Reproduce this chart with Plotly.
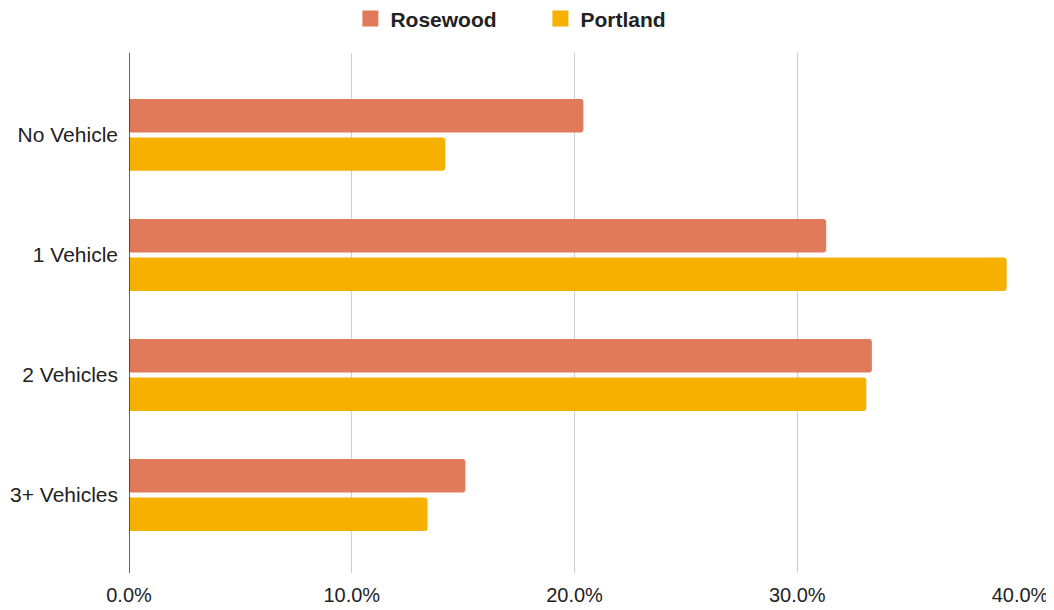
import plotly.graph_objects as go

categories = ["No Vehicle", "1 Vehicle", "2 Vehicles", "3+ Vehicles"]
rosewood = [20.4, 31.3, 33.35, 15.1]
portland = [14.2, 39.4, 33.1, 13.4]
tick_vals = [0, 10, 20, 30, 40]
tick_text = ["0.0%", "10.0%", "20.0%", "30.0%", "40.0%"]
series_names = ["Rosewood", "Portland"]
series_colors = ["#E07A5A", "#F6B000"]

fig = go.Figure()
for name, vals, col in zip(series_names, [rosewood, portland], series_colors):
    fig.add_trace(go.Bar(y=categories, x=vals, name=name, orientation="h",
                         marker=dict(color=col, line=dict(width=0)),
                         showlegend=False))
for name, col in zip(series_names, series_colors):
    fig.add_trace(go.Scatter(x=[None], y=[None], mode="markers", name=name,
                             marker=dict(symbol="square", size=22, color=col)))

fig.update_layout(
    width=1046, height=602,
    margin=dict(l=121, r=34, t=45, b=37, autoexpand=False),
    paper_bgcolor="white", plot_bgcolor="white",
    barmode="group", bargap=0.36, bargroupgap=0.13,
    barcornerradius=3,
    font=dict(family="Liberation Sans, Arial, sans-serif", size=20, color="#222222"),
    showlegend=True,
    legend=dict(orientation="h", x=0.509, xanchor="center", xref="container",
                y=0.982, yref="container", yanchor="middle",
                font=dict(size=21, color="#222222", weight="bold"),
                traceorder="normal", itemsizing="trace", entrywidth=145),
    xaxis=dict(range=[0, 40], tickvals=tick_vals, ticktext=tick_text,
               showgrid=True, gridcolor="#cccccc", gridwidth=1,
               zeroline=False, showline=False, ticks="", fixedrange=True,
               automargin=False, ticklabelstandoff=8,
               tickfont=dict(size=20, color="#222222")),
    yaxis=dict(categoryorder="array", categoryarray=categories,
               range=[3.65, -0.683],
               showgrid=False, zeroline=False, ticks="", automargin=False,
               ticklabelstandoff=10,
               showline=False, tickfont=dict(size=21, color="#222222")),
)
fig.add_shape(type="line", xref="x", yref="paper", x0=0, x1=0, y0=0, y1=1,
              line=dict(color="#333333", width=1.5))
fig.write_html("out.html")
